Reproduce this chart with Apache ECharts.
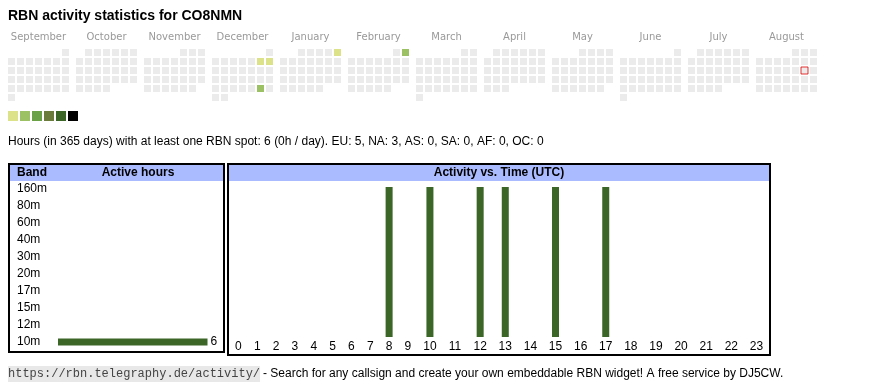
<!DOCTYPE html>
<html><head><meta charset="utf-8">
<script src="https://cdn.jsdelivr.net/npm/echarts@6/dist/echarts.min.js"></script>
<style>html,body{margin:0;padding:0;background:#fff}#c{width:870px;height:390px}</style>
</head><body><div id="c"></div>
<script>
// ---- data ----
const titleText = 'RBN activity statistics for CO8NMN';
const infoText = 'Hours (in 365 days) with at least one RBN spot: 6 (0h / day). EU: 5, NA: 3, AS: 0, SA: 0, AF: 0, OC: 0';
const months = ['2024-09','2024-10','2024-11','2024-12','2025-01','2025-02','2025-03','2025-04','2025-05','2025-06','2025-07','2025-08'];
const monthNames = ['September','October','November','December','January','February','March','April','May','June','July','August'];
const activeDays = ['2024-12-07','2024-12-08','2024-12-28','2025-01-05','2025-02-02'];
const activeDayLevels = [1,1,2,1,2];
const todayDate = '2025-08-16';
const levelValues = [1,2,3,4,5,6];
const levelColors = ['#dbe28a','#9cc064','#6aa046','#6a7b3b','#3b6628','#000000'];
const bands = ['160m','80m','60m','40m','30m','20m','17m','15m','12m','10m'];
const bandHours = [0,0,0,0,0,0,0,0,0,6];
const hourLabels = ['0','1','2','3','4','5','6','7','8','9','10','11','12','13','14','15','16','17','18','19','20','21','22','23'];
const hourActivity = [0,0,0,0,0,0,0,0,1,0,1,0,1,1,0,1,0,1,0,0,0,0,0,0];
const footerUrl = 'https://rbn.telegraphy.de/activity/';
const footerText = '- Search for any callsign and create your own embeddable RBN widget! A free service by DJ5CW.';

// ---- layout helpers ----
const SANS = "'Liberation Sans', Arial, sans-serif";
const barGreen = '#3b6628';
// hour columns sized like an auto-layout table: width grows with label length
const colW = hourLabels.map(l => l.length + 2);
const colCenter = [];
let acc = 0;
colW.forEach(w => { colCenter.push(acc + w / 2); acc += w; });
const totalUnits = acc;

const calendars = months.map((m, i) => ({
  orient: 'vertical',
  range: m,
  cellSize: [9, 9],
  left: 7 + 68 * i,
  top: 48,
  splitLine: { show: false },
  dayLabel: { show: false, firstDay: 1 },
  monthLabel: { show: false },
  yearLabel: { show: true, position: 'top', margin: 6, formatter: monthNames[i], color: '#999', fontSize: 10, fontFamily: "'DejaVu Sans', sans-serif", fontWeight: 'normal' },
  itemStyle: { color: '#ebebeb', borderColor: '#fff', borderWidth: 2 }
}));

const heatSeries = months.map((m, i) => ({
  type: 'heatmap',
  coordinateSystem: 'calendar',
  calendarIndex: i,
  itemStyle: { borderWidth: 0 },
  data: activeDays.map((d, k) => [d, activeDayLevels[k]]).filter(p => p[0].slice(0, 7) === m)
}));

const chart = echarts.init(document.getElementById('c'), null, { renderer: 'canvas' });
const option = {
  animation: false,
  textStyle: { fontFamily: SANS },
  calendar: calendars,
  visualMap: {
    type: 'piecewise',
    seriesIndex: heatSeries.map((s, i) => i),
    orient: 'horizontal',
    left: 8, top: 111,
    padding: 0,
    itemWidth: 10, itemHeight: 10, itemGap: 2,
    itemSymbol: 'rect',
    showLabel: false,
    selectedMode: false,
    pieces: levelValues.map((v, i) => i === levelValues.length - 1 ? { min: v, color: levelColors[i] } : { value: v, color: levelColors[i] })
  },
  grid: [
    { left: 58, top: 180.5, width: 149.5, height: 170 },
    { left: 229, top: 187, width: 540, height: 150 }
  ],
  xAxis: [
    { gridIndex: 0, type: 'value', min: 0, max: Math.max(...bandHours), show: false },
    { gridIndex: 1, type: 'value', min: 0, max: totalUnits,
      axisLine: { show: false }, axisTick: { show: false }, splitLine: { show: false },
      axisLabel: { customValues: colCenter, margin: 4, fontSize: 12, color: '#000', fontFamily: SANS,
        formatter: v => { const k = colCenter.findIndex(c => Math.abs(c - v) < 1e-6); return k >= 0 ? hourLabels[k] : ''; } } }
  ],
  yAxis: [
    { gridIndex: 0, type: 'category', data: bands, inverse: true,
      axisLine: { show: false }, axisTick: { show: false }, splitLine: { show: false },
      axisLabel: { align: 'left', margin: 41, fontSize: 12, color: '#000', fontFamily: SANS } },
    { gridIndex: 1, type: 'value', min: 0, max: 1, show: false }
  ],
  series: heatSeries.concat([
    {
      type: 'scatter', coordinateSystem: 'calendar', calendarIndex: months.indexOf(todayDate.slice(0, 7)),
      symbol: 'rect', symbolSize: 7,
      itemStyle: { color: '#ebebeb', borderColor: '#e00000', borderWidth: 1 },
      data: [[todayDate, 0]], z: 5
    },
    {
      type: 'bar', xAxisIndex: 0, yAxisIndex: 0, data: bandHours, barWidth: 7,
      itemStyle: { color: barGreen },
      label: { show: true, position: 'right', distance: 3, fontSize: 12, color: '#000', fontFamily: SANS,
        formatter: p => p.value ? String(p.value) : '' }
    },
    {
      type: 'bar', xAxisIndex: 1, yAxisIndex: 1, barWidth: 7,
      itemStyle: { color: barGreen },
      data: hourActivity.map((v, i) => [colCenter[i], v])
    }
  ]),
  graphic: [
    { type: 'rect', z: 0, shape: { x: 10, y: 165, width: 213, height: 16 }, style: { fill: '#aabbff' } },
    { type: 'rect', z: 0, shape: { x: 229, y: 165, width: 540, height: 16 }, style: { fill: '#aabbff' } },
    { type: 'rect', z: 10, shape: { x: 9, y: 164, width: 215, height: 188 }, style: { fill: 'none', stroke: '#000', lineWidth: 2 } },
    { type: 'rect', z: 10, shape: { x: 228, y: 164, width: 542, height: 191 }, style: { fill: 'none', stroke: '#000', lineWidth: 2 } },
    { type: 'text', x: 8, y: 16, style: { text: titleText, font: "bold 14px " + SANS, fill: '#000', verticalAlign: 'middle' } },
    { type: 'text', x: 8, y: 142, style: { text: infoText, font: "12px " + SANS, fill: '#000', verticalAlign: 'middle' } },
    { type: 'text', x: 17, y: 173, style: { text: 'Band', font: "bold 12px " + SANS, fill: '#000', verticalAlign: 'middle' } },
    { type: 'text', x: 138, y: 173, style: { text: 'Active hours', font: "bold 12px " + SANS, fill: '#000', align: 'center', verticalAlign: 'middle' } },
    { type: 'text', x: 499, y: 173, style: { text: 'Activity vs. Time (UTC)', font: "bold 12px " + SANS, fill: '#000', align: 'center', verticalAlign: 'middle' } },
    { type: 'text', x: 8, y: 374, style: { text: footerUrl, font: "12px 'Liberation Mono', monospace", fill: '#444', verticalAlign: 'middle', backgroundColor: '#e8e8e8', padding: [2, 0, 2, 0] } },
    { type: 'text', x: 263, y: 374, style: { text: footerText, font: "12px " + SANS, fill: '#000', verticalAlign: 'middle' } }
  ]
};
chart.setOption(option);
</script>
</body></html>
